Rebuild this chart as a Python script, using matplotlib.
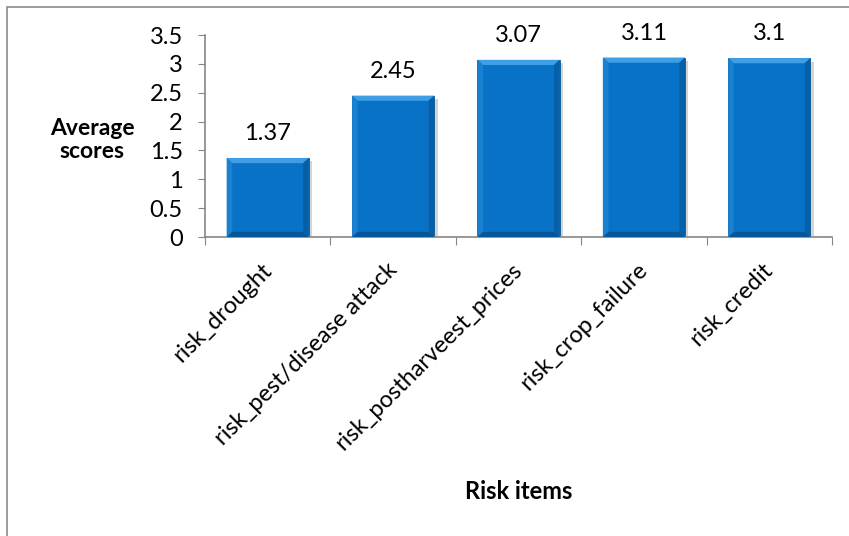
import matplotlib.pyplot as plt
import matplotlib.patheffects as pe
from matplotlib.patches import Rectangle, Polygon
from matplotlib.ticker import FuncFormatter, FixedLocator
import numpy as np

plt.rcParams['font.family'] = ['Lato', 'DejaVu Sans']

items = ["risk_drought", "risk_pest/disease attack", "risk_postharveest_prices",
         "risk_crop_failure", "risk_credit"]
scores = [1.37, 2.45, 3.07, 3.11, 3.1]
score_labels = ["1.37", "2.45", "3.07", "3.11", "3.1"]

fig = plt.figure(figsize=(8.49, 5.36), dpi=100)
ax = fig.add_axes([0.2415, 0.5578, 0.7385, 0.3769])

# outer chart frame (only top and left edges fall inside the image)
fig.patches.append(Rectangle((7 / 849, -0.1), 1.2, 1 - 7 / 536 + 0.1,
                             transform=fig.transFigure, fill=False,
                             edgecolor="#8c8c8c", linewidth=1.2))

x = np.arange(len(items))
width = 0.655
bars = ax.bar(x, scores, width=width, color="#0872c6", edgecolor="#0a5a9c",
              linewidth=0.6, zorder=2)
for b in bars:
    b.set_path_effects([pe.SimplePatchShadow(offset=(2.5, -2.5), alpha=0.25,
                                             shadow_rgbFace="#555555"),
                        pe.Normal()])

# bevel edges on every bar
bx, by = 0.045, 0.09
for xi, h in zip(x, scores):
    l, r = xi - width / 2, xi + width / 2
    faces = [
        ([(l, h), (r, h), (r - bx, h - by), (l + bx, h - by)], "#3f9ee6"),
        ([(l, 0), (l, h), (l + bx, h - by), (l + bx, by)], "#1a80d0"),
        ([(r, 0), (r, h), (r - bx, h - by), (r - bx, by)], "#0660a8"),
        ([(l, 0), (r, 0), (r - bx, by), (l + bx, by)], "#05579a"),
    ]
    for pts, c in faces:
        ax.add_patch(Polygon(pts, closed=True, facecolor=c, edgecolor="none",
                             zorder=3))

for xi, h, s in zip(x, scores, score_labels):
    ax.annotate(s, (xi, h), xytext=(0, 10), textcoords="offset points",
                ha="center", va="bottom", fontsize=17)

ax.set_xlim(-0.5, len(items) - 0.5)
ax.set_ylim(0, 3.5)
ax.set_yticks(np.arange(0, 3.51, 0.5))
ax.yaxis.set_major_formatter(FuncFormatter(lambda v, p: f"{v:g}"))
ax.tick_params(axis="y", labelsize=17, length=5, color="#868686", pad=11)

ax.xaxis.set_major_locator(FixedLocator(np.arange(-0.5, len(items), 1.0)))
ax.xaxis.set_major_formatter(FuncFormatter(lambda v, p: ""))
ax.tick_params(axis="x", length=6, color="#868686")
for xi, name in zip(x, items):
    ax.annotate(name, (xi, 0), xytext=(-5, -16), textcoords="offset points",
                rotation=45, rotation_mode="anchor", ha="right", va="top",
                fontsize=17, annotation_clip=False)

for s in ["top", "right"]:
    ax.spines[s].set_visible(False)
for s in ["left", "bottom"]:
    ax.spines[s].set_color("#868686")
    ax.spines[s].set_linewidth(1.2)

ax.set_ylabel("Average\nscores", rotation=0, fontsize=16.5, fontweight="bold",
              ha="center", va="center", linespacing=1.15)
ax.yaxis.set_label_coords(-0.180, 0.48)
ax.set_xlabel("Risk items", fontsize=17, fontweight="bold", va="center")
ax.xaxis.set_label_coords(0.50, -1.262)

fig.savefig("out.png", dpi=100)
